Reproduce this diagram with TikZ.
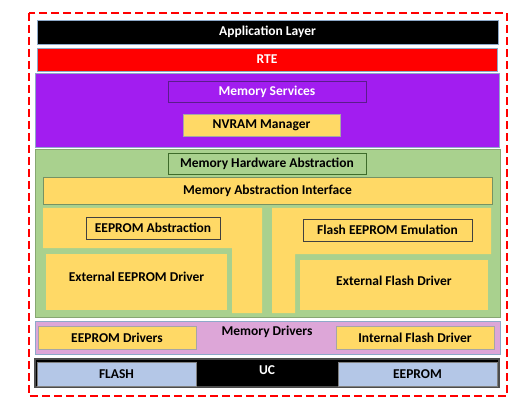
\documentclass[tikz,border=0pt]{standalone}
\usepackage{fontspec}
\setmainfont{Carlito}
\definecolor{appblack}{HTML}{000000}
\definecolor{rtered}{HTML}{FF0000}
\definecolor{svcpurple}{HTML}{A21DF0}
\definecolor{svcedge}{HTML}{5B1C8C}
\definecolor{hwgreen}{HTML}{A9D18E}
\definecolor{hwedge}{HTML}{3E6B2A}
\definecolor{modyellow}{HTML}{FFD966}
\definecolor{drvpink}{HTML}{DDA6D8}
\definecolor{memblue}{HTML}{B4C7E7}
\definecolor{frameedge}{HTML}{8EA9C9}
\begin{document}
\begin{tikzpicture}[x=1pt,y=-1pt,
		layer/.style={draw=frameedge,line width=0.8pt,anchor=north west,inner sep=0pt,outer sep=0pt,
			font=\fontsize{13.5}{15}\selectfont\bfseries},
		module/.style={layer,draw=gray!70,fill=modyellow},
		label/.style={inner sep=0pt,font=\fontsize{13.5}{15}\selectfont\bfseries}]
				\fill[white] (0,0) rectangle (522,414);
				\useasboundingbox (0,0) rectangle (522,414);
				% upper layers
				\node[layer,fill=appblack,text=white,minimum width=461pt,minimum height=24pt] (app) at (37,20) {Application Layer};
				\node[layer,fill=rtered,text=white,minimum width=460pt,minimum height=23pt] (rte) at (37,48) {RTE};
				\node[layer,fill=svcpurple,minimum width=464pt,minimum height=74pt] (services) at (35,73) {};
				\node[layer,draw=svcedge,fill=svcpurple,text=white,minimum width=198pt,minimum height=21.5pt] (memserv) at (168,81) {Memory Services};
				\node[module,minimum width=157pt,minimum height=22.5pt] (nvram) at (183,114) {NVRAM Manager};
				% memory hardware abstraction
				\node[layer,draw=hwgreen!80!black,fill=hwgreen,minimum width=465pt,minimum height=168pt] (hwabs) at (35,149) {};
				\node[layer,draw=hwedge,fill=hwgreen,minimum width=198pt,minimum height=21.5pt] (memhw) at (168,153) {Memory Hardware Abstraction};
				\node[module,draw=hwgreen!70!black,minimum width=449pt,minimum height=27pt] (memif) at (43,177) {Memory Abstraction Interface};
				\fill[modyellow] (43,208) -- (262,208) -- (262,313) -- (232,313) -- (232,248) -- (43,248) -- cycle;
				\fill[modyellow] (272,208) -- (491,208) -- (491,254) -- (295,254) -- (295,313) -- (272,313) -- cycle;
				\node[module,draw=black!75,minimum width=134pt,minimum height=22pt] (eepabs) at (86,217) {EEPROM Abstraction};
				\node[module,draw=black!75,minimum width=169pt,minimum height=22pt] (feeabs) at (303,219) {Flash EEPROM Emulation};
				\node[module,draw=hwgreen,line width=2pt,minimum width=183pt,minimum height=58pt,text depth=10pt] (exteep) at (45,253) {External EEPROM Driver};
				\node[module,draw=hwgreen,line width=2pt,minimum width=190pt,minimum height=52pt,text depth=8pt] (extflash) at (299,259) {External Flash Driver};
				% memory drivers
				\node[layer,fill=drvpink,minimum width=465pt,minimum height=33pt] (memdrv) at (35,321) {};
				\node[label] (memdrvlbl) at (267,331.5) {Memory Drivers};
				\node[module,minimum width=158pt,minimum height=23pt] (eepdrv) at (38,326) {EEPROM Drivers};
				\node[module,minimum width=158pt,minimum height=23pt] (intflash) at (336,326) {Internal Flash Driver};
				% micro controller
				\node[layer,draw=black!70,line width=1.5pt,fill=black,minimum width=464pt,minimum height=28pt] (uc) at (35,359) {};
				\node[label,text=white] (uclbl) at (267,370) {UC};
				\node[layer,draw=gray,fill=memblue,minimum width=159pt,minimum height=24pt] (flash) at (37,362) {FLASH};
				\node[layer,draw=gray,fill=memblue,minimum width=159pt,minimum height=24pt] (eeprom) at (338,362) {EEPROM};
				% outer frame
				\draw[rtered,line width=2.5pt,dash pattern=on 8pt off 4pt] (29,13) rectangle (507,396);
			\end{tikzpicture}
\end{document}
